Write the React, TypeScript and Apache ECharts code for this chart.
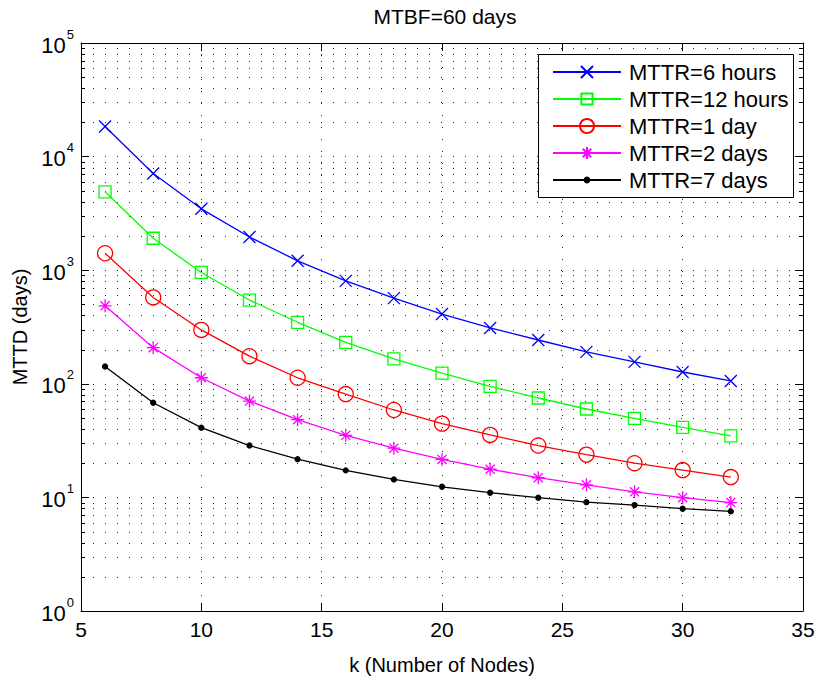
import React, { useEffect, useRef } from 'react';
import * as echarts from 'echarts';

const kValues = [6, 8, 10, 12, 14, 16, 18, 20, 22, 24, 26, 28, 30, 32];
const mttr6h = [18400, 7100, 3470, 1960, 1210, 805, 568, 411, 310, 243, 191, 156, 127, 106];
const mttr12h = [4900, 1910, 955, 546, 348, 232, 166, 124, 95, 75, 60, 49.6, 41.4, 34.8];
const mttr1d = [1410, 576, 298, 175, 113, 81.2, 58.8, 44.6, 35.5, 28.6, 23.8, 20.0, 17.4, 15.1];
const mttr2d = [486, 208, 113, 70.5, 48.3, 35.2, 27.1, 21.6, 17.7, 14.9, 12.9, 11.2, 9.94, 9.0];
const mttr7d = [142, 68.1, 41.1, 28.6, 21.7, 17.3, 14.4, 12.4, 11.0, 9.94, 9.08, 8.56, 7.95, 7.53];
const seriesNames = ['MTTR=6 hours', 'MTTR=12 hours', 'MTTR=1 day', 'MTTR=2 days', 'MTTR=7 days'];
const decadeStarts = [1, 10, 100, 1000, 10000];
const mantissas = [2, 3, 4, 5, 6, 7, 8, 9];

const FONT = 'Liberation Sans, Arial, Helvetica, sans-serif';
const DOT = [1, 11];

// legend layout (pixels)
const LEG_BOX = { x: 538, y: 54, w: 255, h: 143 };
const LEG_LEFT = 552;
const LEG_ROW0 = 72;
const LEG_ROW_STEP = 27;
const LEG_ICON_H = [15, 14, 17.5, 15, 6];

export default function App() {
  const ref = useRef<HTMLDivElement>(null);
  useEffect(() => {
    if (!ref.current) return;
    const chart = echarts.init(ref.current, null, { renderer: 'svg' });
    const minorVals: number[] = [];
    decadeStarts.forEach((d) => mantissas.forEach((m) => minorVals.push(m * d)));

    const mk = (values: number[]) => kValues.map((k, i) => [k, values[i]]);
    const lineSeries = (name: string, data: number[], color: string, symbol: string, size: number, fill: string) => ({
      name,
      type: 'line',
      data: mk(data),
      symbol,
      symbolSize: size,
      showSymbol: true,
      lineStyle: { color, width: 1.3 },
      itemStyle: { color: fill, borderColor: color, borderWidth: 1.3 },
      z: 5,
    });

    const legends = seriesNames.map((name, i) => ({
      data: [name],
      orient: 'horizontal',
      left: LEG_LEFT,
      top: LEG_ROW0 + i * LEG_ROW_STEP - 12,
      itemWidth: 68,
      itemHeight: LEG_ICON_H[i],
      padding: 0,
      z: 8,
      textStyle: { fontFamily: FONT, fontSize: 22, lineHeight: 24, color: '#000', padding: [0, 0, 0, 3] },
    }));

    const option: any = {
      animation: false,
      backgroundColor: '#ffffff',
      textStyle: { fontFamily: FONT },
      title: {
        text: 'MTBF=60 days',
        left: 445,
        top: 6,
        padding: 0,
        textAlign: 'center',
        textStyle: { fontFamily: FONT, fontSize: 21, fontWeight: 'normal', color: '#000' },
      },
      graphic: [
        {
          type: 'rect',
          z: 7,
          shape: { x: LEG_BOX.x + 0.5, y: LEG_BOX.y + 0.5, width: LEG_BOX.w, height: LEG_BOX.h },
          style: { fill: '#fff', stroke: '#000', lineWidth: 1 },
        },
      ],
      legend: legends,
      grid: { left: 81, right: 15, top: 43, bottom: 67 },
      xAxis: [
        {
          type: 'value',
          min: 5,
          max: 35,
          interval: 5,
          name: 'k (Number of Nodes)',
          nameLocation: 'middle',
          nameGap: 44,
          nameTextStyle: { fontFamily: FONT, fontSize: 20, color: '#000' },
          axisLine: { show: true, lineStyle: { color: '#000', width: 1 } },
          axisTick: { show: true, inside: true, length: 8, lineStyle: { color: '#000' } },
          axisLabel: { fontFamily: FONT, fontSize: 21, color: '#000', margin: 8 },
          splitLine: { show: true, lineStyle: { color: '#222', width: 1, type: DOT } },
        },
        {
          type: 'value',
          position: 'top',
          min: 5,
          max: 35,
          interval: 5,
          axisLine: { show: true, lineStyle: { color: '#000', width: 1 } },
          axisTick: { show: true, inside: true, length: 8, lineStyle: { color: '#000' } },
          axisLabel: { show: false },
          splitLine: { show: false },
        },
      ],
      yAxis: [
        {
          type: 'log',
          logBase: 10,
          min: 1,
          max: 100000,
          name: 'MTTD (days)',
          nameLocation: 'middle',
          nameGap: 50,
          nameTextStyle: { fontFamily: FONT, fontSize: 20, color: '#000' },
          axisLine: { show: true, lineStyle: { color: '#000', width: 1 } },
          axisTick: { show: true, inside: true, length: 8, lineStyle: { color: '#000' } },
          axisLabel: {
            margin: 7,
            formatter: (v: number) => `{b|10}{s|${Math.round(Math.log10(v))}}`,
            rich: {
              b: { fontFamily: FONT, fontSize: 22, color: '#000', padding: [4, 0, 0, 0] },
              s: { fontFamily: FONT, fontSize: 13, color: '#000', padding: [0, 0, 18, 1] },
            },
          },
          splitLine: { show: true, lineStyle: { color: '#222', width: 1, type: DOT } },
        },
        {
          type: 'log',
          logBase: 10,
          min: 1,
          max: 100000,
          position: 'right',
          axisLine: { show: true, lineStyle: { color: '#000', width: 1 } },
          axisTick: { show: true, inside: true, length: 8, lineStyle: { color: '#000' } },
          axisLabel: { show: false },
          splitLine: { show: false },
        },
      ],
      series: [
        {
          type: 'custom',
          silent: true,
          z: 1,
          data: minorVals.map((v) => [5, v]),
          encode: { x: 0, y: 1 },
          renderItem: (params: any, api: any) => {
            const cs = params.coordSys;
            const p = api.coord([5, api.value(1)]);
            const y = Math.round(p[1]) + 0.5;
            const x0 = cs.x;
            const x1 = cs.x + cs.width;
            return {
              type: 'group',
              children: [
                { type: 'line', shape: { x1: x0, y1: y, x2: x1, y2: y }, style: { stroke: '#222', lineWidth: 1, lineDash: DOT } },
                { type: 'line', shape: { x1: x0, y1: y, x2: x0 + 4, y2: y }, style: { stroke: '#000', lineWidth: 1 } },
                { type: 'line', shape: { x1: x1 - 4, y1: y, x2: x1, y2: y }, style: { stroke: '#000', lineWidth: 1 } },
              ],
            };
          },
        },
        lineSeries(seriesNames[0], mttr6h, '#0000ff', 'path://M0,0L10,10M10,0L0,10', 12, '#0000ff'),
        lineSeries(seriesNames[1], mttr12h, '#00ff00', 'rect', 12, 'none'),
        lineSeries(seriesNames[2], mttr1d, '#ff0000', 'circle', 15, 'none'),
        lineSeries(seriesNames[3], mttr2d, '#ff00ff', 'path://M5,0L5,10M0,5L10,5M1.5,1.5L8.5,8.5M8.5,1.5L1.5,8.5', 13, '#ff00ff'),
        lineSeries(seriesNames[4], mttr7d, '#000000', 'circle', 5, '#000000'),
      ],
    };
    chart.setOption(option);
    return () => chart.dispose();
  }, []);
  return <div ref={ref} style={{ position: 'fixed', left: 0, top: 0, width: 818, height: 680 }} />;
}
